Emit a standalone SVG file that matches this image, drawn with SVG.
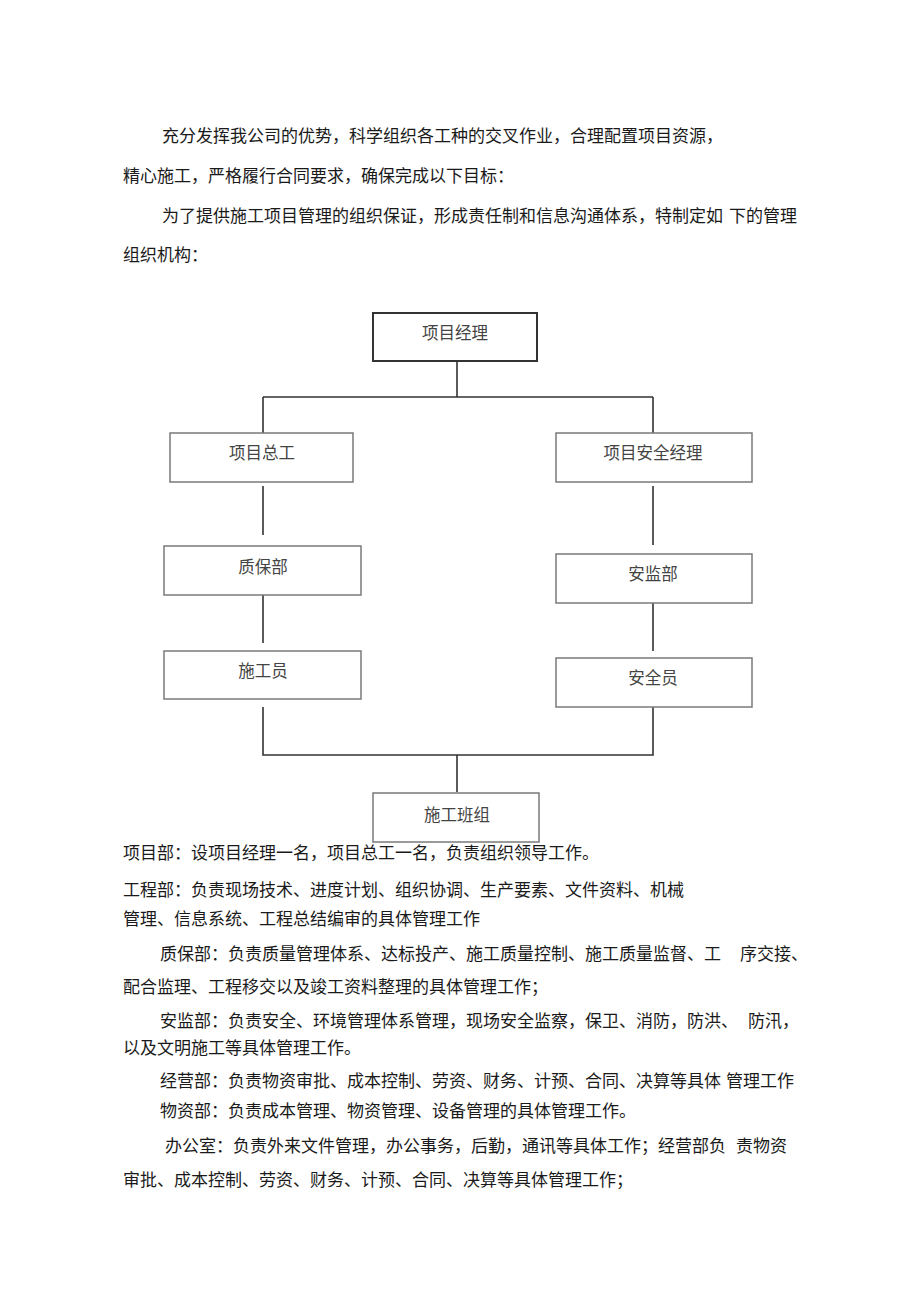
<svg xmlns="http://www.w3.org/2000/svg" width="920" height="1301" viewBox="0 0 920 1301">
<style>
text{font-family:"Liberation Serif","Noto Sans CJK SC",serif;}
.body{font-size:17px;fill:#1a1a1a;}
.lbl{font-size:16.5px;fill:#444;text-anchor:middle;}
.box{fill:#fff;stroke:#7a7a7a;stroke-width:1.5;}
.top{stroke:#333;stroke-width:2;}
.con{fill:none;stroke:#333;stroke-width:1.6;}
</style>
<rect width="920" height="1301" fill="#fff"/>
<g id="intro">
<text class="body" x="162" y="142">充分发挥我公司的优势，科学组织各工种的交叉作业，合理配置项目资源，</text>
<text class="body" x="123" y="182">精心施工，严格履行合同要求，确保完成以下目标：</text>
<text class="body" x="162" y="222">为了提供施工项目管理的组织保证，形成责任制和信息沟通体系，特制定如<tspan dx="6">下的管理</tspan></text>
<text class="body" x="123" y="261">组织机构：</text>
</g>
<g id="connectors">
<path class="con" d="M457 361V397M263 397H653M263 397V433M653 397V433"/>
<path class="con" d="M263 486V535M653 486V545M263 595V643M653 603V651"/>
<path class="con" d="M263 707V755H653V707M457 755V792"/>
</g>
<g id="n-pm"><rect class="box top" x="373" y="313" width="164" height="48"/><text class="lbl" x="455" y="339">项目经理</text></g>
<g id="n-chief"><rect class="box" x="170" y="433" width="183" height="49"/><text class="lbl" x="262" y="459">项目总工</text></g>
<g id="n-safetypm"><rect class="box" x="556" y="433" width="196" height="49"/><text class="lbl" x="653" y="459">项目安全经理</text></g>
<g id="n-qa"><rect class="box" x="164" y="546" width="197" height="49"/><text class="lbl" x="263" y="573">质保部</text></g>
<g id="n-worker"><rect class="box" x="164" y="651" width="197" height="48"/><text class="lbl" x="263" y="677">施工员</text></g>
<g id="n-safedept"><rect class="box" x="556" y="554" width="196" height="49"/><text class="lbl" x="653" y="580">安监部</text></g>
<g id="n-safeofficer"><rect class="box" x="556" y="658" width="196" height="49"/><text class="lbl" x="653" y="684">安全员</text></g>
<g id="n-team"><rect class="box" x="373" y="793" width="166" height="49"/><text class="lbl" x="457" y="821">施工班组</text></g>
<g id="desc">
<text class="body" x="123" y="859">项目部：设项目经理一名，项目总工一名，负责组织领导工作。</text>
<text class="body" x="123" y="896">工程部：负责现场技术、进度计划、组织协调、生产要素、文件资料、机械</text>
<text class="body" x="123" y="925">管理、信息系统、工程总结编审的具体管理工作</text>
<text class="body" x="160" y="960">质保部：负责质量管理体系、达标投产、施工质量控制、施工质量监督、工<tspan dx="19">序交接、</tspan></text>
<text class="body" x="123" y="993">配合监理、工程移交以及竣工资料整理的具体管理工作；</text>
<text class="body" x="160" y="1027">安监部：负责安全、环境管理体系管理，现场安全监察，保卫、消防，防洪、<tspan dx="10">防汛，</tspan></text>
<text class="body" x="123" y="1054">以及文明施工等具体管理工作。</text>
<text class="body" x="160" y="1087">经营部：负责物资审批、成本控制、劳资、财务、计预、合同、决算等具体<tspan dx="5">管理工作</tspan></text>
<text class="body" x="160" y="1117">物资部：负责成本管理、物资管理、设备管理的具体管理工作。</text>
<text class="body" x="165" y="1152">办公室：负责外来文件管理，办公事务，后勤，通讯等具体工作；经营部负<tspan dx="10">责物资</tspan></text>
<text class="body" x="123" y="1186">审批、成本控制、劳资、财务、计预、合同、决算等具体管理工作；</text>
</g>
</svg>
